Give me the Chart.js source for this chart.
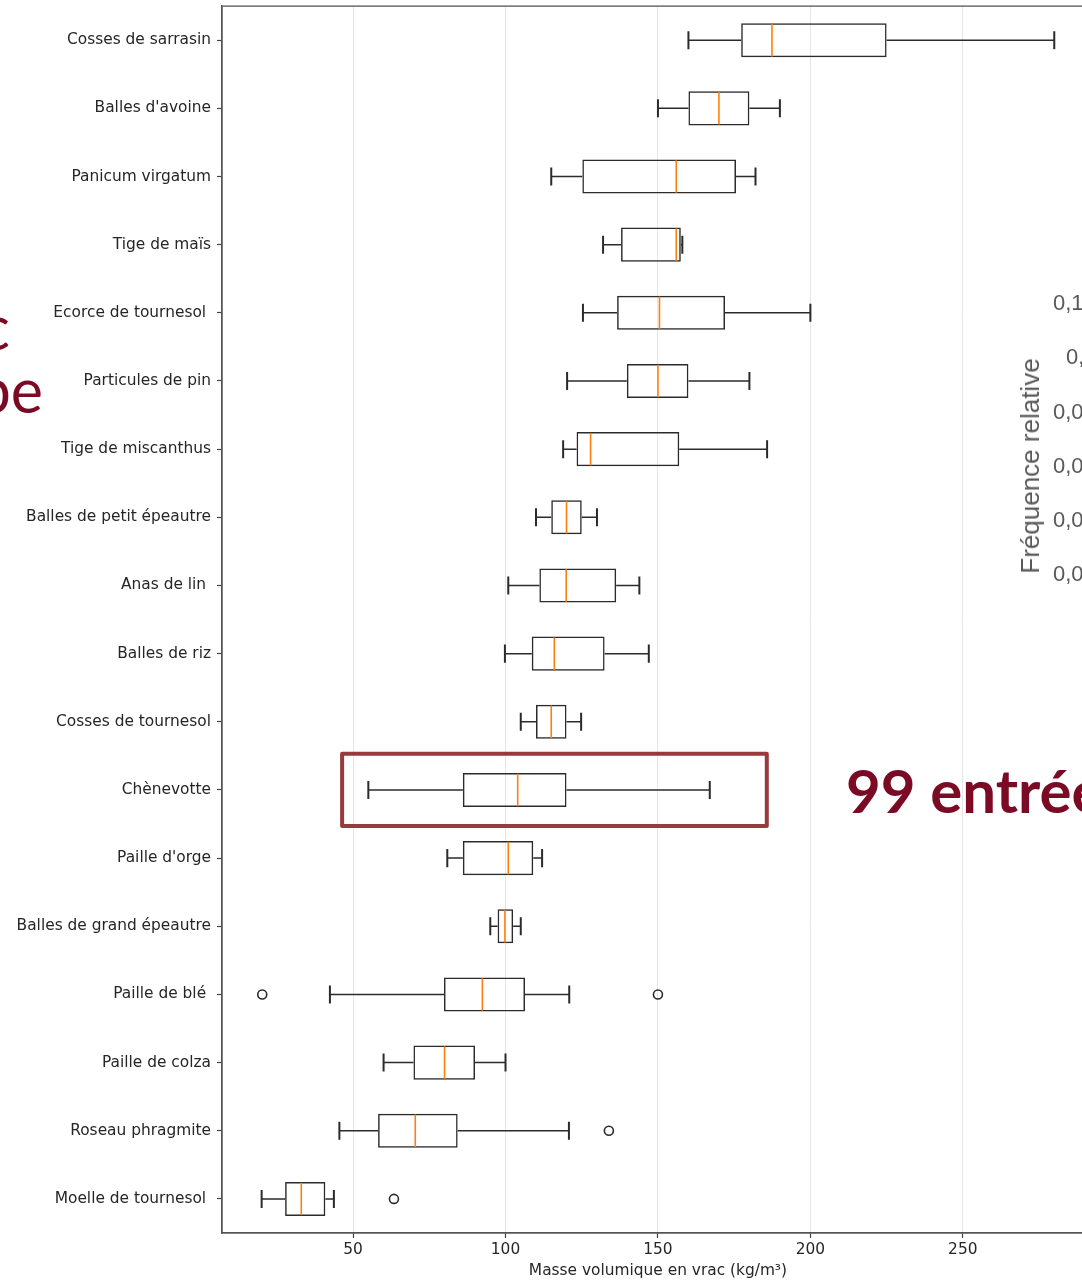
<!DOCTYPE html>
<html>
<head>
<meta charset="utf-8">
<script src="https://cdn.jsdelivr.net/npm/chart.js@4/dist/chart.umd.min.js"></script>
<style>
  html, body { margin: 0; padding: 0; background: #fff; overflow: hidden; }
  #page { width: 1082px; height: 1280px; overflow: hidden; position: relative; }
  #boxChart { position: absolute; left: 0; top: 0; }
  .slide { position: absolute; white-space: nowrap; }
  .red { color: #7b0a24; font-family: Lato, "Open Sans", sans-serif; font-size: 61px; line-height: 1; }
  .freq { color: #595959; font-family: "Liberation Sans", Arial, sans-serif; font-size: 22px; line-height: 1; }
</style>
</head>
<body>
<div id="page">
<canvas id="boxChart" width="1100" height="1280"></canvas>

<!-- morceaux de la diapo autour du graphique -->
<div class="slide red" style="left:-300px; width:310px; text-align:right; top:296px;">c</div>
<div class="slide red" style="left:-300px; width:343px; text-align:right; top:359px;">be</div>
<div class="slide red" style="left:846px; top:760px; font-weight:700; font-size:60px;">99 entrées</div>
<div class="slide freq" style="left:1030px; top:466px; font-size:26px; transform:translate(-50%,-50%) rotate(-90deg);">Fréquence relative</div>
<div class="slide freq" style="left:1053px; top:292px;">0,12</div>
<div class="slide freq" style="left:1066px; top:346px;">0,1</div>
<div class="slide freq" style="left:1053px; top:401px;">0,08</div>
<div class="slide freq" style="left:1053px; top:455px;">0,06</div>
<div class="slide freq" style="left:1053px; top:509px;">0,04</div>
<div class="slide freq" style="left:1053px; top:563px;">0,02</div>
</div>

<script>
// boîtes à moustaches : masse volumique en vrac
var categories = ['Cosses de sarrasin', "Balles d'avoine", 'Panicum virgatum', 'Tige de maïs',
    'Ecorce de tournesol ', 'Particules de pin', 'Tige de miscanthus', 'Balles de petit épeautre',
    'Anas de lin ', 'Balles de riz', 'Cosses de tournesol', 'Chènevotte', "Paille d'orge",
    'Balles de grand épeautre', 'Paille de blé ', 'Paille de colza', 'Roseau phragmite',
    'Moelle de tournesol '];
var whiskerLow  = [160, 150, 115, 132, 125.4, 120.2, 118.9, 110, 100.9, 99.8, 105, 55, 80.9, 95, 42.4, 60, 45.5, 20];
var q1          = [177.3, 160, 125.2, 137.9, 136.6, 139.8, 123.3, 115, 111.1, 108.6, 110, 86, 86, 97.4, 79.8, 69.8, 58.2, 27.7];
var medians     = [187.4, 170, 156, 156, 150.5, 150, 127.9, 120, 119.9, 116, 115, 104, 100.9, 99.8, 92.4, 80, 70.4, 33];
var q3          = [225, 180, 175.6, 157.5, 172, 160, 157, 125, 136.3, 132.5, 120, 120, 109.1, 102.5, 106.4, 90, 84.3, 40.9];
var whiskerHigh = [280, 190, 182, 158, 200, 180, 185.8, 130, 143.9, 147, 124.8, 167, 112, 105, 120.9, 100, 120.8, 43.7];
var outlierCats   = ['Paille de blé ', 'Paille de blé ', 'Roseau phragmite', 'Moelle de tournesol '];
var outlierValues = [20.2, 150, 133.9, 63.4];
var xTicks = [50, 100, 150, 200, 250];
var xMin = 7, xMax = 293;
// cadre rouge autour de la chènevotte
var highlightCat = 'Chènevotte';
var highlightRange = [46.4, 185.7];

var boxColor = '#2b2b2b';
var medianColor = '#ff7f0e';
var axisFont = { family: 'DejaVu Sans', size: 15.4 };

// moustaches, médianes, cadre
var boxPlugin = {
    id: 'boxParts',
    afterDatasetsDraw: function (chart) {
        var ctx = chart.ctx;
        var xs = chart.scales.x, ys = chart.scales.y;
        var step = ys.getPixelForValue(1) - ys.getPixelForValue(0);
        var half = step * 0.25;
        ctx.save();
        ctx.lineCap = 'butt';
        for (var i = 0; i < categories.length; i++) {
            var y = ys.getPixelForValue(i);
            ctx.strokeStyle = boxColor;
            ctx.lineWidth = 1.5;
            ctx.beginPath();
            ctx.moveTo(xs.getPixelForValue(whiskerLow[i]), y);
            ctx.lineTo(xs.getPixelForValue(q1[i]), y);
            ctx.moveTo(xs.getPixelForValue(q3[i]), y);
            ctx.lineTo(xs.getPixelForValue(whiskerHigh[i]), y);
            ctx.stroke();
            ctx.lineWidth = 2;
            ctx.beginPath();
            [whiskerLow[i], whiskerHigh[i]].forEach(function (v) {
                var px = xs.getPixelForValue(v);
                ctx.moveTo(px, y - half / 2 - 0.5);
                ctx.lineTo(px, y + half / 2 + 0.5);
            });
            ctx.stroke();
            ctx.strokeStyle = medianColor;
            ctx.lineWidth = 1.6;
            ctx.beginPath();
            var mx = xs.getPixelForValue(medians[i]);
            ctx.moveTo(mx, y - half + 0.8);
            ctx.lineTo(mx, y + half - 0.8);
            ctx.stroke();
        }
        // cadre du graphique (4 côtés)
        var a = chart.chartArea;
        ctx.strokeStyle = '#555';
        ctx.lineWidth = 1.3;
        ctx.strokeRect(a.left, a.top, a.right - a.left, a.bottom - a.top);

        var hy = ys.getPixelForValue(categories.indexOf(highlightCat));
        var x0 = xs.getPixelForValue(highlightRange[0]);
        var x1 = xs.getPixelForValue(highlightRange[1]);
        ctx.strokeStyle = '#983a3c';
        ctx.lineWidth = 4;
        ctx.lineJoin = 'round';
        ctx.strokeRect(x0, hy - step * 0.53, x1 - x0, step * 1.06);
        ctx.restore();
    }
};

var drawChart = function (canvasId) {
    var ctx = document.getElementById(canvasId);
    new Chart(ctx, {
        type: 'bar',
        data: {
            labels: categories,
            datasets: [{
                type: 'bar',
                indexAxis: 'y',
                data: q1.map(function (v, i) { return [v, q3[i]]; }),
                backgroundColor: 'rgba(255,255,255,0)',
                borderColor: boxColor,
                borderWidth: 1.5,
                borderSkipped: false,
                barPercentage: 0.5,
                categoryPercentage: 1
            }, {
                type: 'scatter',
                data: outlierValues.map(function (v, i) { return { x: v, y: outlierCats[i] }; }),
                pointStyle: 'circle',
                pointRadius: 4.5,
                pointBorderWidth: 1.6,
                pointBorderColor: boxColor,
                pointBackgroundColor: 'rgba(255,255,255,0)'
            }]
        },
        options: {
            responsive: false,
            animation: false,
            devicePixelRatio: 1,
            layout: { padding: { left: 0, top: 6, right: 6, bottom: 0 } },
            plugins: { legend: { display: false }, tooltip: { enabled: false } },
            scales: {
                x: {
                    type: 'linear',
                    min: xMin,
                    max: xMax,
                    offset: false,
                    afterBuildTicks: function (scale) {
                        scale.ticks = xTicks.map(function (v) { return { value: v }; });
                    },
                    afterFit: function (scale) {
                        scale.height = 47;
                        scale.paddingLeft = 0;
                        scale.paddingRight = 0;
                    },
                    grid: { offset: false, color: '#e6e6e6', lineWidth: 1, tickLength: 5, tickColor: '#444', tickWidth: 1.2 },
                    border: { display: true, color: '#555', width: 1.3 },
                    ticks: { color: '#262626', font: axisFont, padding: 3, maxRotation: 0 },
                    title: {
                        display: true,
                        text: 'Masse volumique en vrac (kg/m³)',
                        color: '#262626',
                        font: { family: 'DejaVu Sans', size: 15.4 },
                        padding: { top: 0, bottom: 0 }
                    }
                },
                y: {
                    type: 'category',
                    offset: true,
                    afterFit: function (scale) {
                        scale.width = 222;
                        scale.paddingTop = 0;
                        scale.paddingBottom = 0;
                    },
                    grid: { offset: false, drawOnChartArea: false, tickLength: 5, tickColor: '#444', tickWidth: 1.2 },
                    border: { display: true, color: '#555', width: 1.3 },
                    ticks: { color: '#262626', font: axisFont, padding: 6, autoSkip: false }
                }
            }
        },
        plugins: [boxPlugin]
    });
};

drawChart('boxChart');
</script>
</body>
</html>
